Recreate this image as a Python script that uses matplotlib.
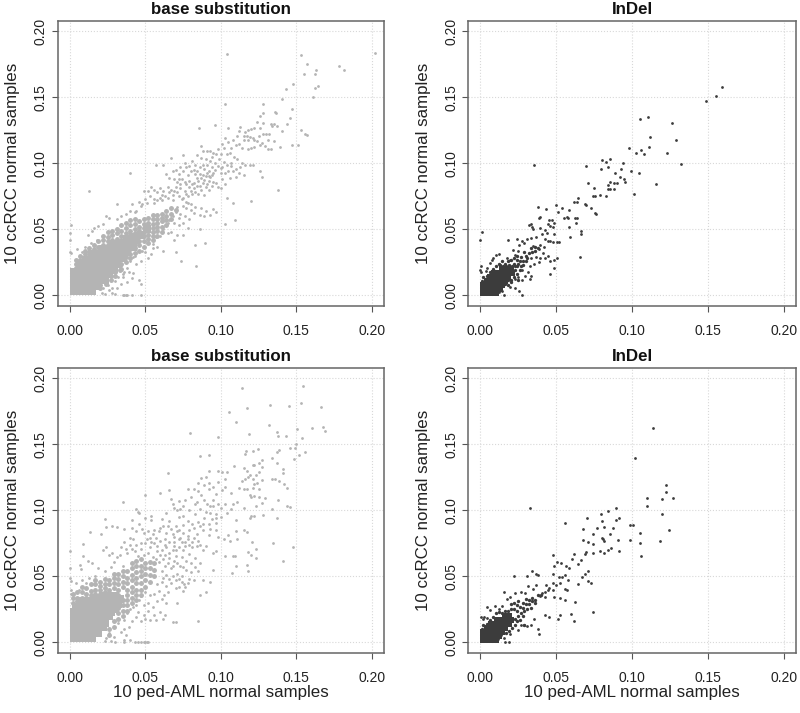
import matplotlib
matplotlib.use("Agg")
import matplotlib.pyplot as plt

plt.rcParams['font.family'] = ['Liberation Sans', 'DejaVu Sans']

# (x, y). *_dots are the single visible points, *_mid the crowded
# stretch of each band, *_core centres of the saturated part of each cloud.
sub_top_dots = [
    (.202,.1833),(.178,.174),(.1815,.1705),(.1533,.1818),(.157,.175),(.155,.1677),(.163,.1707),(.162,.168),
    (.1645,.1586),(.1625,.1573),(.1607,.1505),(.148,.160),(.143,.156),(.1407,.149),(.104,.183),(.103,.145),
    (.1277,.145),(.1277,.138),(.126,.136),(.136,.139),(.1365,.138),(.147,.1415),(.146,.134),(.1435,.1295),(.1407,.1245),
    (.1532,.1252),(.156,.122),(.1568,.1215),(.147,.114),(.151,.1136),(.138,.080),(.1197,.0712),(.1096,.057),(.1027,.054),
    (.013,.079),(.04,.093),(.031,.0695),(.0853,.1265),(.096,.129),(.1047,.1265),(.0668,.1038),(.0747,.1066),(.0869,.1134),
    (.135,.130),(.134,.128),(.137,.1285),(.1335,.1295),(.130,.1225),(.132,.122),(.128,.1305),(.124,.131),(.126,.127),
    (.122,.127),(.120,.126),(.118,.125),(.113,.1275),(.116,.124),(.117,.121),(.119,.120),(.121,.119),(.122,.118),(.118,.1175),
    (.115,.121),(.111,.121),(.108,.118),(.105,.116),(.110,.114),(.112,.115),(.114,.112),(.118,.111),(.120,.112),(.122,.1125),
    (.129,.113),(.131,.111),(.133,.111),(.126,.114),(.135,.117),(.139,.1125),(.124,.117),(.1275,.1155),(.107,.112),(.102,.112),
    (.104,.107),(.106,.108),(.109,.105),(.111,.103),(.100,.107),(.097,.107),(.095,.108),(.091,.109),(.088,.1095),(.093,.1095),
    (.084,.106),(.087,.104),(.090,.103),(.093,.102),(.096,.100),(.099,.103),(.102,.101),(.104,.099),(.107,.098),(.110,.096),
    (.113,.097),(.116,.0985),(.119,.099),(.121,.0985),(.115,.091),(.112,.093),(.126,.0945),(.127,.090),(.107,.1005),(.114,.100),
    (.081,.102),(.079,.098),(.076,.100),(.083,.0985),(.086,.097),(.089,.096),(.092,.094),(.094,.097),(.095,.0925),(.092,.0905),
    (.100,.0925),(.103,.0925),(.101,.088),(.103,.0845),(.097,.085),(.098,.082),(.100,.081),(.094,.083),(.092,.087),(.089,.0875),
    (.087,.089),(.085,.087),(.083,.092),(.080,.094),(.078,.091),(.075,.094),(.072,.092),(.068,.094),(.064,.092),(.062,.099),
    (.057,.099),(.082,.0855),(.079,.087),(.076,.086),(.074,.088),(.071,.086),(.070,.082),(.067,.080),(.065,.082),(.062,.079),
    (.060,.081),(.058,.078),(.056,.080),(.054,.082),(.052,.079),(.049,.079),(.073,.081),(.076,.079),(.079,.082),(.082,.081),
    (.084,.083),(.087,.080),(.090,.082),(.092,.080),(.089,.076),(.085,.077),(.081,.077),(.078,.075),(.075,.074),(.072,.075),
    (.068,.076),(.065,.074),(.063,.075),(.060,.074),(.058,.072),(.056,.073),(.053,.075),(.050,.073),(.048,.069),(.046,.071),
    (.104,.074),(.095,.0655),(.108,.070),(.093,.061),(.097,.063),(.090,.064),(.087,.066),(.083,.067),(.080,.069),(.077,.071),
    (.091,.084),(.088,.091),(.084,.089),(.081,.084),(.077,.084),(.073,.084),(.069,.079),(.066,.078),(.061,.076),(.086,.083),
    (.083,.078),(.080,.079),(.077,.077),(.071,.078),(.094,.091),(.091,.093),(.088,.085),(.095,.086),(.078,.070),(.074,.073),
    (.071,.067),(.077,.066),(.080,.065),(.075,.068),(.068,.072),(.061,.072),(.056,.070),(.051,.070),(.047,.068),(.044,.064),
    (.041,.069),(.043,.063),(.040,.064),(.037,.062),(.034,.060),(.031,.058),(.026,.0585),(.024,.060),
    (.022,.054),(.019,.0525),(.016,.051),(.015,.0485),(.012,.046),(.005,.0355),(.0005,.053),(0,.047),(0,.042),(0,.033),(.0005,.032),
    (.070,.063),(.073,.062),(.076,.060),(.079,.0575),(.082,.0625),(.086,.061),(.089,.0605),(.075,.055),(.078,.051),(.072,.053),
    (.069,.055),(.066,.057),(.072,.059),(.068,.060),(.065,.055),(.062,.050),
    (.067,.048),(.071,.046),(.075,.046),(.069,.042),(.065,.047),(.060,.045),(.057,.044),(.055,.039),
    (.086,.050),(.0895,.040),(.083,.038),(.0735,.026),(.0835,.022),(.070,.033),(.062,.034),(.058,.037),(.055,.036),(.054,.031),
    (.050,.033),(.052,.028),(.047,.026),(.048,.034),(.042,.029),(.043,.030),(.044,.024),(.040,.026),(.038,.021),
    (.036,.018),(.035,.016),(.039,.018),(.042,.017),(.046,.012),(.047,.009),(.041,.013),(.035,.014),(.038,.010),(.032,.014),
    (.034,.009),(.030,.011),(.031,.006),(.028,.006),(.026,.004),(.028,.002),(.030,.001),(.035,.0003),(.037,.0005),(.038,.0),
    (.041,.0005),(.047,.0),(.025,.008),(.022,.006),(.021,.002),(.023,.001),(.036,.0005),(.018,.042),(.014,.040),(.010,.037),(.008,.033),
    (.098,.098),(.101,.097),(.105,.094),(.108,.094),(.110,.090),(.106,.089),(.100,.0965),(.096,.095),(.093,.090),(.090,.0905),
    (.086,.092),(.082,.095),(.077,.097),(.073,.097),(.070,.095),(.066,.089),(.069,.088),(.072,.0885),(.084,.0945),(.088,.099),
    (.091,.099),(.094,.1045),(.098,.1105),(.101,.1145),(.103,.119),(.112,.1245),(.115,.1175),(.125,.121),(.128,.1225),(.131,.1175),
]
sub_top_mid = [
    (.004,.021),(.004,.024),(.004,.027),(.007,.024),(.007,.027),(.007,.030),(.010,.028),(.010,.031),(.010,.034),(.013,.030),(.013,.033),(.013,.036),
    (.016,.032),(.016,.035),(.016,.038),(.019,.034),(.019,.037),(.019,.041),(.022,.035),(.022,.038),(.022,.042),(.022,.045),
    (.025,.038),(.025,.041),(.025,.044),(.025,.048),(.028,.038),(.028,.042),(.028,.046),(.028,.049),(.031,.040),(.031,.043),(.031,.047),(.031,.050),
    (.034,.020),(.034,.024),(.034,.042),(.034,.045),(.034,.049),(.034,.053),(.037,.025),(.037,.029),(.037,.044),(.037,.047),(.037,.051),(.037,.055),
    (.040,.028),(.040,.031),(.040,.035),(.040,.046),(.040,.049),(.040,.053),(.040,.057),(.043,.032),(.043,.036),(.043,.040),(.043,.047),(.043,.050),(.043,.054),(.043,.058),
    (.046,.034),(.046,.038),(.046,.041),(.046,.045),(.046,.049),(.046,.052),(.046,.056),(.049,.037),(.049,.041),(.049,.045),(.049,.048),(.049,.051),(.049,.054),(.049,.058),
    (.052,.040),(.052,.043),(.052,.046),(.052,.049),(.052,.052),(.052,.055),(.052,.059),(.055,.042),(.055,.045),(.055,.048),(.055,.051),(.055,.054),(.055,.058),(.055,.061),
    (.058,.045),(.058,.049),(.058,.052),(.058,.055),(.058,.058),(.058,.061),(.061,.048),(.061,.052),(.061,.056),(.061,.059),(.061,.062),
    (.064,.053),(.064,.057),(.064,.060),(.064,.064),(.067,.058),(.067,.062),(.067,.066),(.070,.065),
    (.020,.006),(.020,.008),(.024,.009),(.024,.012),(.027,.012),(.027,.015),(.030,.015),(.030,.018),(.033,.019),(.033,.023),
]
sub_top_core = [
    (.003,.003),(.007,.003),(.011,.003),(.015,.003),(.003,.007),(.007,.007),(.011,.007),(.015,.007),(.019,.007),
    (.003,.011),(.007,.011),(.011,.011),(.015,.011),(.019,.011),(.023,.012),(.003,.015),(.007,.015),(.011,.015),(.015,.015),
    (.019,.015),(.023,.015),(.026,.016),(.003,.018),(.007,.019),(.011,.019),(.015,.019),(.019,.019),(.023,.019),(.027,.019),(.029,.020),
    (.007,.023),(.011,.023),(.015,.023),(.019,.023),(.023,.023),(.027,.023),(.031,.024),(.011,.027),(.015,.027),(.019,.027),(.023,.027),
    (.027,.027),(.031,.027),(.035,.028),(.015,.031),(.019,.031),(.023,.031),(.027,.031),(.031,.031),(.035,.031),(.038,.033),
    (.022,.035),(.026,.035),(.030,.035),(.034,.035),(.038,.036),(.042,.037),(.028,.039),(.032,.039),(.036,.039),(.040,.040),(.044,.042),
    (.038,.043),(.042,.044),(.047,.046),(.051,.050),
]
sub_bot_dots = [
    (.1138,.1927),(.1541,.1939),(.1533,.181),(.166,.1785),(.1453,.179),(.1327,.1798),(.1173,.1775),(.1056,.1745),(.110,.1667),
    (.132,.1644),(.1605,.1621),(.1676,.1629),(.1691,.1598),(.1504,.1614),(.1369,.1596),(.1189,.1578),(.0794,.1583),(.0983,.1556),
    (.1378,.156),(.143,.1566),(.1539,.155),(.15,.15),(.1455,.147),(.149,.147),(.1555,.1444),(.152,.1417),(.1486,.1389),(.1387,.1457),
    (.1369,.144),(.1169,.145),(.116,.1427),(.1215,.145),(.1248,.1467),(.0864,.1412),(.0924,.1419),(.0653,.1283),(.1409,.0614),
    (.1475,.072),(.1343,.0753),(.1028,.0652),(.1083,.0657),(.1092,.0652),(.1076,.0525),(.1103,.058),(.1173,.059),(.1178,.0543),
    (.1182,.0682),(.0851,.0162),(.0701,.0157),(.0686,.0155),(.0351,.1063),(.05,.1116),(.0598,.1129),(.0236,.0932),(.0135,.0833),
    (.0205,.0821),(.009,.0742),(0,.0694),(0,.056),(0,.0485),(.0005,.0465),(.0068,.0586),(.0073,.0556),(.0086,.0654),
    (.134,.140),(.137,.136),(.141,.131),(.141,.128),(.134,.124),(.136,.124),(.1385,.122),(.142,.120),(.144,.117),(.138,.108),
    (.1435,.103),(.146,.1025),(.1375,.0945),(.134,.101),(.129,.1095),(.127,.1055),(.125,.110),(.122,.111),(.120,.110),(.128,.0965),
    (.123,.1035),(.122,.0955),(.120,.096),(.119,.0945),(.115,.1015),(.127,.138),(.125,.136),(.127,.133),(.122,.134),(.121,.134),
    (.115,.132),(.117,.130),(.119,.127),(.121,.124),(.123,.127),(.125,.129),(.127,.123),(.124,.121),(.122,.120),(.121,.117),
    (.118,.125),(.116,.124),(.114,.1225),(.117,.116),(.115,.116),(.112,.117),(.125,.116),(.119,.112),(.111,.106),(.108,.105),
    (.1065,.1135),(.1085,.1335),(.104,.129),(.101,.129),(.098,.130),(.092,.130),(.087,.1245),(.090,.1255),(.092,.121),(.095,.1175),
    (.098,.1215),(.103,.1235),(.1025,.118),(.1005,.1155),(.0965,.1125),(.092,.1165),(.089,.119),(.085,.121),(.082,.1165),(.087,.112),
    (.089,.1075),(.084,.1065),(.091,.105),(.093,.1035),(.095,.103),(.100,.102),(.103,.105),(.097,.097),(.093,.098),(.090,.099),
    (.097,.094),(.094,.0935),(.097,.0905),(.093,.086),(.097,.085),(.098,.0795),(.092,.081),(.105,.0815),(.102,.0785),(.110,.0845),
    (.115,.0855),(.117,.0835),(.1105,.078),(.106,.077),(.1205,.076),(.123,.0705),(.12,.0665),(.1235,.064),(.097,.069),(.095,.068),
    (.088,.070),(.086,.074),(.090,.073),(.084,.082),(.088,.085),(.086,.0885),(.081,.090),(.078,.092),(.075,.096),(.073,.101),
    (.068,.105),(.067,.1085),(.075,.103),(.071,.1),(.066,.1155),(.078,.1165),(.072,.095),(.070,.0885),(.066,.092),(.061,.0935),
    (.054,.096),(.054,.093),(.046,.098),(.044,.101),(.045,.0985),(.041,.0925),(.046,.090),(.050,.094),(.036,.086),(.031,.0875),
    (.028,.088),(.024,.0875),(.041,.0865),(.044,.084),(.049,.0825),(.053,.079),(.056,.0855),(.060,.0865),(.064,.083),(.067,.086),
    (.071,.084),(.075,.0825),(.078,.0805),(.082,.079),(.085,.077),(.079,.074),(.076,.076),(.072,.078),(.069,.0795),(.066,.076),
    (.063,.078),(.060,.077),(.056,.075),(.053,.072),(.050,.0755),(.047,.075),(.044,.074),(.042,.078),(.040,.079),(.036,.076),
    (.034,.072),(.038,.068),(.041,.071),(.045,.0655),(.049,.066),(.052,.068),(.055,.065),(.058,.069),(.061,.070),(.064,.072),
    (.068,.070),(.072,.072),(.075,.070),(.079,.067),(.083,.064),(.086,.060),(.080,.060),(.077,.062),(.074,.0645),(.070,.0655),
    (.066,.064),(.062,.063),(.059,.061),(.069,.076),(.072,.085),(.075,.089),(.079,.085),(.082,.087),(.069,.073),(.063,.074),(.058,.073),
    (.057,.079),(.054,.076),(.051,.078),(.047,.071),(.043,.069),(.040,.074),(.037,.071),(.033,.066),(.035,.058),(.031,.065),(.028,.068),
    (.024,.0725),(.026,.066),(.022,.070),(.029,.061),(.027,.057),(.023,.054),(.019,.056),(.015,.060),
    (.012,.062),(.017,.050),(.013,.049),(.011,.045),(.067,.056),(.071,.052),(.074,.050),(.079,.048),(.082,.047),(.088,.047),
    (.093,.0455),(.0905,.0385),(.0865,.036),(.0945,.055),(.085,.054),(.072,.048),(.068,.050),(.064,.051),(.061,.054),(.063,.058),
    (.068,.058),(.071,.060),(.075,.057),(.075,.039),(.076,.042),(.0755,.044),(.072,.042),(.070,.041),(.067,.045),(.064,.043),(.061,.046),(.058,.044),
    (.065,.038),(.0625,.036),(.059,.039),(.056,.037),(.053,.036),
    (.050,.038),(.047,.035),(.071,.030),(.064,.030),(.061,.033),(.058,.031),(.055,.027),(.052,.030),(.049,.028),(.046,.032),
    (.044,.028),(.042,.027),(.040,.025),(.045,.023),(.049,.021),(.052,.024),(.056,.021),(.060,.023),(.063,.021),(.057,.017),
    (.062,.018),(.053,.017),(.050,.018),(.047,.016),(.044,.019),(.041,.016),(.038,.022),(.036,.017),(.039,.012),(.036,.010),
    (.032,.015),(.034,.008),(.037,.006),(.040,.002),(.036,.002),(.029,.004),(.026,.007),(.024,.003),(.027,.001),(.023,.001),
    (.030,.0005),(.036,.0005),(.043,.0005),(.045,.0005),(.049,.0005),(.050,.0005),(.051,.0005),(.052,.0005),(.047,.0005),
    (.0005,.040),(.0005,.037),(.008,.047),(.004,.045),(.006,.040),
    (.062,.088),(.059,.084),(.055,.082),(.052,.084),(.048,.086),(.065,.088),(.068,.082),(.073,.079),(.076,.073),(.081,.072),
    (.084,.073),(.081,.076),(.078,.078),(.074,.076),(.070,.070),(.066,.068),(.063,.066),(.060,.066),(.057,.063),(.065,.060),
    (.069,.062),(.073,.058),(.077,.055),(.080,.053),(.083,.057),(.078,.045),(.074,.046),(.070,.047),(.066,.048),(.062,.049),
    (.088,.090),(.092,.090),(.089,.094),(.085,.091),(.083,.097),(.079,.100),(.076,.108),(.072,.107),(.069,.102),(.064,.098),
    (.086,.101),(.083,.105),(.080,.110),(.085,.115),(.095,.108),(.098,.105),(.100,.095),(.104,.098),(.107,.101),(.110,.093),
]
sub_bot_mid = [
    (.002,.030),(.002,.034),(.002,.037),(.005,.031),(.005,.034),(.005,.038),(.008,.031),(.008,.034),(.008,.038),(.008,.042),
    (.011,.034),(.011,.037),(.011,.041),(.014,.036),(.014,.039),(.014,.044),(.017,.037),(.017,.040),(.017,.044),(.017,.047),
    (.020,.037),(.020,.040),(.020,.043),(.020,.046),(.023,.038),(.023,.041),(.023,.044),(.023,.048),
    (.026,.006),(.026,.010),(.026,.037),(.026,.040),(.026,.044),(.026,.047),(.029,.012),(.029,.016),(.029,.037),(.029,.041),(.029,.045),(.029,.049),(.029,.052),
    (.032,.018),(.032,.022),(.032,.026),(.032,.036),(.032,.040),(.032,.044),(.032,.048),(.032,.052),(.035,.020),(.035,.024),(.035,.028),(.035,.032),(.035,.042),(.035,.046),(.035,.050),(.035,.054),
    (.038,.024),(.038,.028),(.038,.032),(.038,.036),(.038,.040),(.038,.045),(.038,.049),(.038,.054),(.041,.030),(.041,.034),(.041,.038),(.041,.042),(.041,.047),(.041,.051),(.041,.056),(.041,.060),
    (.044,.032),(.044,.036),(.044,.040),(.044,.045),(.044,.049),(.044,.053),(.044,.058),(.044,.062),(.047,.036),(.047,.040),(.047,.045),(.047,.050),(.047,.054),(.047,.058),(.047,.063),
    (.050,.042),(.050,.047),(.050,.052),(.050,.056),(.050,.060),(.053,.046),(.053,.051),(.053,.056),(.053,.061),
    (.056,.050),(.056,.055),(.056,.060),
]
sub_bot_core = [
    (.003,.003),(.007,.003),(.011,.003),(.015,.003),(.003,.007),(.007,.007),(.011,.007),(.015,.007),(.019,.007),
    (.003,.011),(.007,.011),(.011,.011),(.015,.011),(.019,.011),(.022,.012),(.003,.015),(.007,.015),(.011,.015),(.015,.015),
    (.019,.015),(.023,.015),(.003,.019),(.007,.019),(.011,.019),(.015,.019),(.019,.019),(.023,.019),(.026,.020),(.003,.023),
    (.007,.023),(.011,.023),(.015,.023),(.019,.023),(.023,.023),(.027,.023),(.030,.025),(.004,.027),(.008,.027),(.012,.027),(.016,.027),(.020,.027),
    (.024,.027),(.028,.027),(.032,.029),(.009,.031),(.013,.031),(.017,.031),(.021,.031),(.025,.031),(.029,.031),(.033,.033),(.018,.034),(.022,.035),(.026,.035),(.030,.035),
]
indel_top_dots = [
    (.1592,.1581),(.1555,.1513),(.1488,.1475),(.1103,.1351),(.105,.1333),(.1263,.1303),(.1116,.12),(.129,.1174),(.1111,.1126),
    (.0981,.1119),(.1056,.1103),(.1028,.1076),(.108,.1071),(.123,.1078),(.1323,.0995),(.0353,.0987),(.0798,.1023),(.0829,.1013),
    (.0856,.1033),(.0937,.1005),(.0695,.098),(.0842,.0972),(.0794,.0957),(.0924,.0957),(.0992,.0939),(.1047,.0929),(.0889,.0924),
    (.0920,.0896),(.0946,.0879),(.0953,.0861),(.0902,.0854),(.0880,.0854),(.0853,.0861),(.1158,.0841),(.0708,.0851),(.075,.0813),
    (.084,.0836),(.0838,.0803),(.0853,.0803),(.088,.0808),(.1012,.077),(.0787,.076),(.0827,.075),(.0743,.0753),(.0756,.075),
    (.0615,.0705),(.0646,.0735),(.0635,.071),(.069,.0689),(.0695,.0682),(.0732,.0662),(.0752,.0621),(.0759,.0619),(.0377,.0672),
    (.0432,.0652),(.0498,.0684),(.0538,.0659),(.0582,.0646),(.0509,.0629),(.0624,.0583),(.0637,.0583),(.0633,.0551),(.0578,.0583),
    (.0571,.0596),(.0549,.0583),(.0582,.052),(.0666,.049),(.0661,.0462),(.0593,.0439),(.0655,.029),(.0318,.053),(.0334,.0543),
    (.0338,.0518),(.0387,.059),(.0395,.0596),(.0346,.0505),(.039,.0511),(.0452,.0571),(.0474,.0571),(.0445,.0541),(.0483,.0546),
    (.0428,.0495),(.0461,.0525),(.0476,.052),(.0439,.0472),(.0487,.0467),(.0520,.0404),(.0461,.0409),(.0013,.048),(0,.0419),
    (.0179,.0419),(.024,.0429),(.0271,.0003),(.0229,.0053),(.0251,.0035),(.0461,.0159),(.0487,.0205),(.0483,.0268),(.0505,.0285),
    (.0272,.0415),(.0288,.0398),(.0305,.0425),(.0335,.0435),(.0365,.0445),(.0405,.0465),(.0425,.0425),(.0445,.0415),(.0478,.0408),
    (.0505,.0402),(.0395,.0385),(.0418,.037),(.0345,.0375),(.0385,.0355),(.0415,.0325),(.0425,.0285),(.0445,.0295),(.0458,.0258),
    (.0395,.028),(.0365,.029),(.0335,.0285),(.0245,.0335),(.0215,.0345),(.0255,.038),(.0225,.0305),(.0325,.0225),(.0355,.0235),
    (.0385,.0255),(.0315,.0175),(.0335,.0145),(.0325,.0125),(.0295,.0145),(.0275,.012),(.0245,.014),(.0275,.0195),(.0105,.0305),
    (.0125,.031),(.0085,.0285),(.0065,.0245),(.0075,.0265),(.0175,.0285),(.0195,.0265),(.0035,.0185),(.0005,.022),(0,.0195),(.0005,.0175),
    (.0045,.0205),(.0225,.0125),(.0155,.0005),(.0145,.0035),(.0125,.0025),(.0195,.0065),
]
indel_top_mid = [
    (.001,.011),(.002,.014),(.004,.015),(.006,.018),(.008,.020),(.010,.022),(.012,.024),(.014,.026),(.016,.024),(.018,.026),(.020,.027),
    (.022,.024),(.024,.022),(.026,.026),(.024,.027),(.028,.026),(.027,.029),(.030,.030),(.029,.033),(.032,.032),(.031,.028),(.034,.033),
    (.033,.036),(.036,.037),(.036,.034),(.038,.036),(.022,.028),(.024,.030),(.020,.012),(.022,.014),(.024,.016),(.018,.008),(.020,.010),
    (.026,.019),(.027,.022),(.025,.012),(.023,.019),(.025,.024),(.028,.023),(.030,.026),(.013,.023),(.015,.022),(.017,.022),(.019,.023),
    (.021,.022),(.023,.022),(.016,.009),(.014,.007),(.018,.012),
]
indel_top_core = [
    (.0015,.002),(.004,.002),(.007,.002),(.010,.002),(.0015,.005),(.004,.005),(.007,.005),(.010,.005),(.013,.005),
    (.002,.008),(.005,.008),(.008,.008),(.011,.008),(.014,.008),(.004,.011),(.007,.011),(.010,.011),(.013,.011),(.016,.011),
    (.006,.014),(.009,.014),(.012,.014),(.015,.014),(.018,.014),(.009,.017),(.012,.017),(.015,.017),(.018,.017),(.021,.017),(.014,.020),(.017,.020),(.020,.020),
]
indel_bot_dots = [
    (.1138,.1626),(.1021,.1394),(.1221,.1189),(.1224,.1136),(.1098,.1096),(.1195,.1088),(.1268,.1093),(.11,.1035),(.1195,.0975),
    (.1244,.0851),(.1186,.0768),(.1054,.0753),(.1058,.0652),(.1052,.0826),(.1006,.0886),(.0983,.0891),(.0983,.0778),(.0327,.102),
    (.0556,.0902),(.0703,.0944),(.0840,.0995),(.0891,.1015),(.0913,.0944),(.0891,.0927),(.0796,.0972),(.0798,.0922),(.0875,.0866),
    (.0814,.0876),(.077,.0866),(.0679,.0861),(.0741,.0821),(.0856,.0818),(.0803,.0793),(.0807,.0783),(.0816,.0768),(.0904,.0773),
    (.0675,.0775),(.0712,.076),(.0743,.0747),(.0913,.0694),(.0858,.0712),(.0842,.07),(.0785,.0692),(.0814,.0677),(.0743,.0674),
    (.0699,.0687),(.0692,.0667),(.0661,.0624),(.0646,.0591),(.0615,.0667),(.0606,.0634),(.0481,.0664),(.0503,.0611),(.0487,.0576),
    (.0532,.0598),(.0562,.0578),(.0582,.0561),(.0712,.0538),(.0686,.0515),(.0670,.0497),(.0646,.0442),(.0712,.0467),(.0727,.0452),
    (.0221,.05),(.0304,.0505),(.0337,.054),(.0363,.052),(.0379,.051),(.0743,.0227),(.0622,.0303),(.0595,.0217),(.0615,.0164),
    (.0509,.0174),(.0527,.0205),(.0379,.0104),(.0388,.0066),(.0423,.0205),(.0454,.0189),(.0523,.0333),(.056,.0321),(.0571,.0396),
    (.0475,.052),(.0515,.0495),(.054,.0495),(.056,.051),(.0575,.0475),(.0525,.045),(.0555,.0405),(.0495,.0435),(.0475,.045),
    (.0455,.0415),(.0435,.0435),(.0445,.0395),(.0425,.0385),(.0405,.0375),(.0475,.0395),(.0485,.0345),(.0425,.0345),(.0395,.0355),
    (.0365,.0435),(.0345,.0405),(.0315,.0425),(.0295,.0375),(.0265,.0385),(.0225,.0375),(.0155,.038),(.0195,.0345),(.0175,.033),
    (.0335,.0135),(.0355,.0175),(.0305,.0125),(.0285,.013),(.0265,.0135),(.0245,.0095),(.0195,.0065),
    (.0185,.0005),(.0165,.0005),(.0155,.0035),(.0095,.0275),(.0045,.0265),(.0065,.0245),(.0025,.0195),(.0005,.0195),(.0015,.0175),
    (.0045,.0185),(.0125,.0255),(.0145,.0275),(.0135,.0055),(.0115,.0025),
]
indel_bot_mid = [
    (.001,.010),(.002,.013),(.004,.014),(.006,.017),(.008,.019),(.010,.022),(.012,.023),(.014,.022),(.016,.024),(.018,.024),(.020,.025),
    (.022,.025),(.024,.024),(.026,.027),(.024,.028),(.028,.026),(.028,.030),(.030,.029),(.030,.033),(.032,.032),(.032,.029),(.034,.031),
    (.034,.034),(.036,.032),(.036,.030),(.038,.036),(.040,.036),(.022,.030),(.025,.031),(.020,.029),(.023,.018),(.025,.020),(.027,.022),
    (.029,.024),(.031,.025),(.033,.026),(.021,.011),(.023,.013),(.019,.009),(.024,.016),(.026,.017),(.017,.007),(.028,.020),(.029,.013),
]
indel_bot_core = [
    (.0015,.002),(.004,.002),(.007,.002),(.010,.002),(.0015,.005),(.004,.005),(.007,.005),(.010,.005),(.012,.005),
    (.002,.008),(.005,.008),(.008,.008),(.011,.008),(.014,.008),(.004,.011),(.007,.011),(.010,.011),(.013,.011),(.016,.011),
    (.007,.014),(.010,.014),(.013,.014),(.016,.014),(.019,.014),(.011,.017),(.014,.017),(.017,.017),(.020,.017),(.016,.020),(.019,.020),
]

ticks = [0.0, 0.05, 0.10, 0.15, 0.20]
tick_labels = ['0.00', '0.05', '0.10', '0.15', '0.20']
x_label = '10 ped-AML normal samples'
y_label = '10 ccRCC normal samples'

GREY = '#b4b4b4'
DARK = '#3c3c3c'
W, H = 800, 713


def draw_panel(box, title, dots, mid, core, color, core_size, xlabel=None):
    left, top, right, bottom = box
    ax = fig.add_axes([left / W, 1 - bottom / H, (right - left) / W, (bottom - top) / H])
    ax.set_xlim(-0.008, 0.208)
    ax.set_ylim(-0.008, 0.208)
    ax.grid(True, linestyle=':', color='#d8d8d8', linewidth=0.8)
    ax.set_axisbelow(True)
    ax.scatter(*zip(*core), s=core_size, marker='s', color=color, linewidths=0)
    ax.scatter(*zip(*mid), s=core_size * 0.42, color=color, linewidths=0)
    ax.scatter(*zip(*dots), s=4, color=color, linewidths=0)
    ax.set_xticks(ticks)
    ax.set_xticklabels(tick_labels, fontsize=10, color='#222222')
    ax.set_yticks(ticks)
    ax.set_yticklabels(tick_labels, fontsize=10, color='#222222', rotation=90, va='center')
    ax.tick_params(length=4.3, width=0.8, color='#555555')
    ax.tick_params(axis='x', pad=9)
    ax.tick_params(axis='y', pad=3)
    for s in ax.spines.values():
        s.set_color('#666666')
        s.set_linewidth(1.1)
    ax.set_title(title, fontsize=12.2, fontweight='bold', pad=4.5, color='#111111')
    ax.set_ylabel(y_label, fontsize=12.2, labelpad=9.5, color='#222222')
    if xlabel:
        ax.set_xlabel(xlabel, fontsize=12.2, labelpad=0, color='#222222')


fig = plt.figure(figsize=(W / 100, H / 100), dpi=100)
draw_panel((57.7, 20.7, 384, 306), 'base substitution', sub_top_dots, sub_top_mid, sub_top_core, GREY, 30)
draw_panel((468.3, 20.7, 796, 306), 'InDel', indel_top_dots, indel_top_mid, indel_top_core, DARK, 14)
draw_panel((57.7, 367.7, 384, 653), 'base substitution', sub_bot_dots, sub_bot_mid, sub_bot_core, GREY, 30, x_label)
draw_panel((468.3, 367.7, 796, 653), 'InDel', indel_bot_dots, indel_bot_mid, indel_bot_core, DARK, 14, x_label)
fig.savefig('out.png', dpi=100)
